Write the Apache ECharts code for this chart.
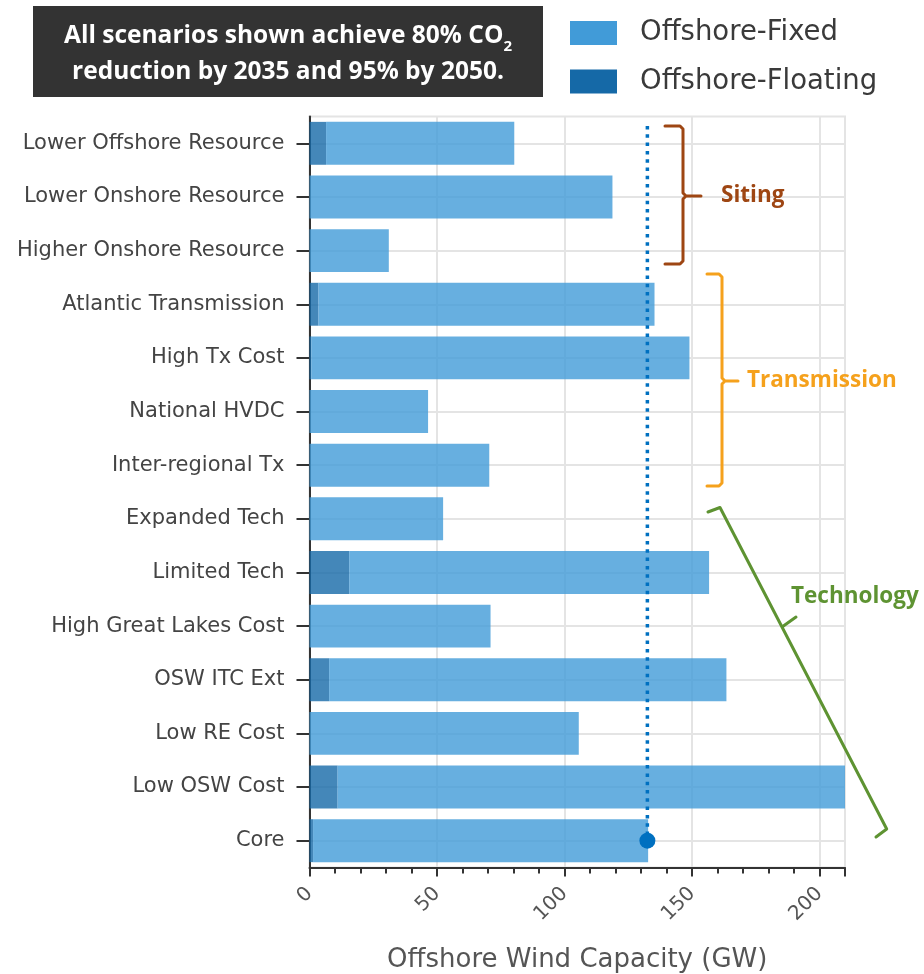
<!DOCTYPE html>
<html>
<head>
<meta charset="utf-8">
<script src="https://cdn.jsdelivr.net/npm/echarts@6/dist/echarts.min.js"></script>
<style>html,body{margin:0;padding:0;background:#fff;}#main{width:924px;height:974px;}</style>
</head>
<body>
<div id="main"></div>
<script>
const categories = ['Lower Offshore Resource','Lower Onshore Resource','Higher Onshore Resource','Atlantic Transmission','High Tx Cost','National HVDC','Inter-regional Tx','Expanded Tech','Limited Tech','High Great Lakes Cost','OSW ITC Ext','Low RE Cost','Low OSW Cost','Core'];
const floatingGW = [6.5, 0, 0, 3.5, 0.7, 0, 0, 0, 15.6, 0, 7.7, 0, 11, 1.4];
const fixedGW = [73.8, 118.8, 31.1, 131.8, 148.3, 46.5, 70.5, 52.4, 141.1, 71, 155.8, 105.6, 199, 131.4];
const coreTotal = 132.5;
const xTicks = {min: 0, max: 210, interval: 50};

const FONT = 'DejaVu Sans';
const BOLD = 'Open Sans';

const chart = echarts.init(document.getElementById('main'), null, {renderer: 'canvas'});
const option = {
  animation: false,
  backgroundColor: '#fff',
  legend: {
    orient: 'vertical', left: 570, top: 19, padding: 0, itemWidth: 47, itemHeight: 24, itemGap: 20.5,
    icon: 'rect',
    textStyle: {fontFamily: FONT, fontSize: 27.5, lineHeight: 24, color: '#3a3a3a', padding: [0,0,0,18]},
    data: [
      {name: 'Offshore-Fixed', itemStyle: {color: '#419bd8', opacity: 1}},
      {name: 'Offshore-Floating', itemStyle: {color: '#1569a7', opacity: 1}}
    ]
  },
  grid: {left: 309.5, right: 79, top: 116.5, bottom: 106.5, show: true, borderColor: '#e4e4e4', borderWidth: 2,
         containLabel: false, outerBoundsMode: 'none'},
  xAxis: {
    type: 'value', min: xTicks.min, max: xTicks.max, interval: xTicks.interval,
    name: 'Offshore Wind Capacity (GW)', nameLocation: 'middle', nameGap: 80,
    nameTextStyle: {fontFamily: FONT, fontSize: 26, color: '#555'},
    axisLine: {show: true, lineStyle: {color: '#333', width: 2}},
    axisTick: {show: true, length: 9, lineStyle: {color: '#333', width: 2}},
    minorTick: {show: true, splitNumber: 5, length: 6, lineStyle: {color: '#333', width: 2}},
    axisLabel: {rotate: 45, margin: 23, fontFamily: FONT, fontSize: 20, color: '#555'},
    splitLine: {show: true, lineStyle: {color: '#e4e4e4', width: 2}}
  },
  yAxis: {
    type: 'category', data: categories, inverse: true,
    axisLine: {show: true, lineStyle: {color: '#333', width: 2}},
    axisTick: {show: true, alignWithLabel: true, length: 13, lineStyle: {color: '#333', width: 2}},
    axisLabel: {margin: 25, fontFamily: FONT, fontSize: 21, color: '#444'},
    splitLine: {show: true, alignWithLabel: true, lineStyle: {color: '#e4e4e4', width: 2}}
  },
  series: [
    {name: 'Offshore-Floating', type: 'bar', stack: 'osw', data: floatingGW, barCategoryGap: '20%',
     itemStyle: {color: '#1569a7', opacity: 0.8}},
    {name: 'Offshore-Fixed', type: 'bar', stack: 'osw', data: fixedGW, barCategoryGap: '20%',
     itemStyle: {color: '#419bd8', opacity: 0.8}},
    {name: 'CoreMarker', type: 'scatter', data: [[coreTotal, 'Core']], symbolSize: 16, z: 20,
     itemStyle: {color: '#0070c0', opacity: 1}}
  ]
};
chart.setOption(option);

const corePt = chart.convertToPixel({seriesIndex: 2}, [coreTotal, 'Core']);
const topY = 126;

function bracket(points, color) {
  return {type: 'polyline', z: 50, shape: {points: points},
    style: {stroke: color, lineWidth: 3, fill: null, lineJoin: 'round', lineCap: 'round'}};
}
const siting = '#9e4613', trans = '#f5a11c', tech = '#5e9332';

chart.setOption({
  graphic: [
    {type: 'rect', left: 33, top: 6, z: 50, shape: {width: 510, height: 91}, style: {fill: '#333333'}},
    {type: 'text', z: 51, x: 288, y: 54, style: {
      text: 'All scenarios shown achieve 80% CO{sub|2}\nreduction by 2035 and 95% by 2050.',
      fill: '#fff', fontFamily: BOLD, fontWeight: 'bold', fontSize: 24.5, lineHeight: 36,
      align: 'center', verticalAlign: 'middle',
      rich: {sub: {fontFamily: BOLD, fontWeight: 'bold', fontSize: 15, fill: '#fff', verticalAlign: 'bottom', lineHeight: 34}}
    }},
    {type: 'line', z: 30, shape: {x1: corePt[0], y1: topY, x2: corePt[0], y2: corePt[1]},
     style: {stroke: '#0070c0', lineWidth: 3.5, lineDash: [3.5, 4.8]}},
    bracket([[665,126],[680,126],[683,129],[683,193],[686,196],[701,196],[686,196],[683,199],[683,261],[680,264],[665,264]], siting),
    {type: 'text', z: 51, x: 721, y: 196, style: {text: 'Siting', fill: siting, fontFamily: BOLD, fontWeight: 'bold', fontSize: 22.5, verticalAlign: 'middle'}},
    bracket([[707,274],[719,274],[722,277],[722,378],[725,381],[738,381],[725,381],[722,384],[722,483],[719,486],[707,486]], trans),
    {type: 'text', z: 51, x: 747, y: 381, style: {text: 'Transmission', fill: trans, fontFamily: BOLD, fontWeight: 'bold', fontSize: 22.5, verticalAlign: 'middle'}},
    bracket([[708,512],[720,507.5],[782,627],[796,617],[782,627],[886.7,829],[876,837]], tech),
    {type: 'text', z: 51, x: 791, y: 597, style: {text: 'Technology', fill: tech, fontFamily: BOLD, fontWeight: 'bold', fontSize: 22.5, verticalAlign: 'middle'}}
  ]
});
</script>
</body>
</html>
